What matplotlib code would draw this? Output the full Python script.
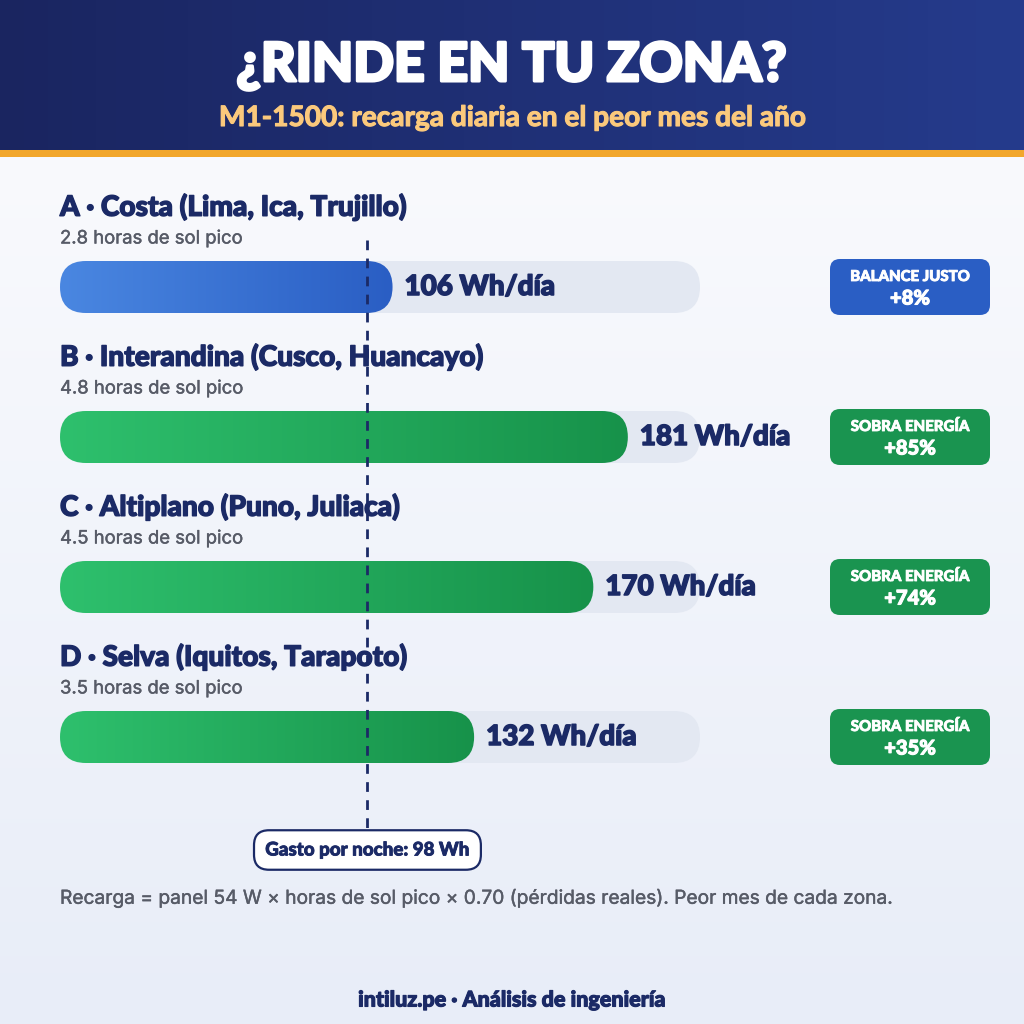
import numpy as np
import matplotlib
matplotlib.use("Agg")
import matplotlib.pyplot as plt
import matplotlib.patheffects as pe
from matplotlib.patches import FancyBboxPatch, Rectangle
from matplotlib.colors import LinearSegmentedColormap

# ---------------- data ----------------
zones = ["A · Costa (Lima, Ica, Trujillo)",
         "B · Interandina (Cusco, Huancayo)",
         "C · Altiplano (Puno, Juliaca)",
         "D · Selva (Iquitos, Tarapoto)"]
sun_hours = [2.8, 4.8, 4.5, 3.5]
recharge_wh = [106, 181, 170, 132]
status = ["BALANCE JUSTO", "SOBRA ENERGÍA", "SOBRA ENERGÍA", "SOBRA ENERGÍA"]
surplus = ["+8%", "+85%", "+74%", "+35%"]
night_use_wh = 98
axis_max_wh = 204

title = "¿RINDE EN TU ZONA?"
subtitle = "M1-1500: recarga diaria en el peor mes del año"
note = "Recarga = panel 54 W × horas de sol pico × 0.70 (pérdidas reales). Peor mes de cada zona."
footer = "intiluz.pe · Análisis de ingeniería"

NAVY = "#1b2a66"
GRAY = "#575b67"
TRACK = "#e3e8f2"
HEAD = "Lato"
BODY = ["Inter", "DejaVu Sans"]


def heavy(color, w=0.8):
    return [pe.withStroke(linewidth=w, foreground=color)]


fig = plt.figure(figsize=(10.24, 10.24), dpi=100)
bg = fig.add_axes([0, 0, 1, 1])
bg.set_xlim(0, 1024); bg.set_ylim(1024, 0); bg.axis("off")

# background gradient
grad = np.linspace(0, 1, 256).reshape(-1, 1)
bg.imshow(grad, extent=(0, 1024, 1024, 150), aspect="auto", zorder=0,
          cmap=LinearSegmentedColormap.from_list("b", ["#f9fafd", "#e8edf8"]))
# header gradient
hgrad = np.linspace(0, 1, 256).reshape(1, -1)
bg.imshow(hgrad, extent=(0, 1024, 150, 0), aspect="auto", zorder=1,
          cmap=LinearSegmentedColormap.from_list("h", ["#1a2560", "#253b8c"]))
bg.add_patch(Rectangle((0, 150), 1024, 7, color="#f2a72c", zorder=2, lw=0))
bg.text(512, 66, title, ha="center", va="center", color="white",
        fontsize=38.5, fontweight="black", family=HEAD, zorder=3,
        path_effects=heavy("white", 2.2))
bg.text(512, 118, subtitle, ha="center", va="center", color="#fbc97c",
        fontsize=20.2, fontweight="bold", family=HEAD, zorder=3,
        path_effects=heavy("#fbc97c", 0.8))

# bars axes (x in Wh, y in figure pixels)
ax = fig.add_axes([60 / 1024, 0, 640 / 1024, 1])
ax.set_xlim(0, axis_max_wh); ax.set_ylim(1024, 0); ax.axis("off")
ax.patch.set_alpha(0)
ppw = 640 / axis_max_wh  # pixels per Wh

blue_cm = LinearSegmentedColormap.from_list("bl", ["#4a87e1", "#2a5ec4"])
green_cm = LinearSegmentedColormap.from_list("gr", ["#2ec06d", "#17924a"])
BAR_H = 52
for i, (z, h, v, st, sp) in enumerate(zip(zones, sun_hours, recharge_wh, status, surplus)):
    yc = 287 + 150 * i
    bg.text(60, yc - 80, z, ha="left", va="center", color=NAVY,
            fontsize=20.2, fontweight="black", family=HEAD, zorder=3,
            path_effects=heavy(NAVY, 1.0))
    bg.text(60, yc - 48, f"{h} horas de sol pico", ha="left", va="center",
            color=GRAY, fontsize=13.3, family=BODY, zorder=3,
            path_effects=heavy(GRAY, 0.3))
    r = BAR_H / 2 / ppw
    track = FancyBboxPatch((0, yc - BAR_H / 2), axis_max_wh, BAR_H,
                           boxstyle=f"round,pad=0,rounding_size={r}",
                           mutation_aspect=ppw, fc=TRACK, ec="none", zorder=2)
    ax.add_patch(track)
    bar = FancyBboxPatch((0, yc - BAR_H / 2), v, BAR_H,
                         boxstyle=f"round,pad=0,rounding_size={r}",
                         mutation_aspect=ppw, fc="none", ec="none", zorder=3)
    ax.add_patch(bar)
    cm = blue_cm if st.startswith("BALANCE") else green_cm
    im = ax.imshow(hgrad, extent=(0, v, yc + BAR_H / 2, yc - BAR_H / 2),
                   aspect="auto", cmap=cm, zorder=3)
    im.set_clip_path(bar)
    ax.annotate(f"{v} Wh/día", xy=(v, yc), xytext=(12, 0), textcoords="offset pixels",
                ha="left", va="center", color=NAVY, fontsize=20,
                fontweight="black", family=HEAD, zorder=5,
                path_effects=heavy(NAVY, 1.1))
    # badge
    bcol = "#2a5ec4" if st.startswith("BALANCE") else "#1a9450"
    bg.add_patch(FancyBboxPatch((830, yc - 28), 160, 56,
                                boxstyle="round,pad=0,rounding_size=10",
                                fc=bcol, ec="none", zorder=3))
    bg.text(910, yc - 10, st, ha="center", va="center", color="white",
            fontsize=10.8, fontweight="black", family=HEAD, zorder=4,
            path_effects=heavy("white", 0.6))
    bg.text(910, yc + 11, sp, ha="center", va="center", color="white",
            fontsize=14.5, fontweight="black", family=HEAD, zorder=4,
            path_effects=heavy("white", 0.8))

# consumption line
ax.plot([night_use_wh, night_use_wh], [240, 830], color=NAVY, lw=2,
        dashes=(3.5, 3), zorder=4)
ax.annotate(f"Gasto por noche: {night_use_wh} Wh", xy=(night_use_wh, 850),
            ha="center", va="center", color=NAVY, fontsize=13.5,
            fontweight="black", family=HEAD, zorder=5,
            path_effects=heavy(NAVY, 0.6),
            bbox=dict(boxstyle="round,pad=0.6,rounding_size=0.8",
                      fc="white", ec=NAVY, lw=1.6))

bg.text(60, 898, note, ha="left", va="center", color=GRAY, fontsize=13.8,
        family=BODY, zorder=3, path_effects=heavy(GRAY, 0.3))
bg.text(512, 1000, footer, ha="center", va="center", color=NAVY, fontsize=15.5,
        fontweight="black", family=HEAD, zorder=3, path_effects=heavy(NAVY, 0.8))

fig.savefig("out.png", dpi=100)
